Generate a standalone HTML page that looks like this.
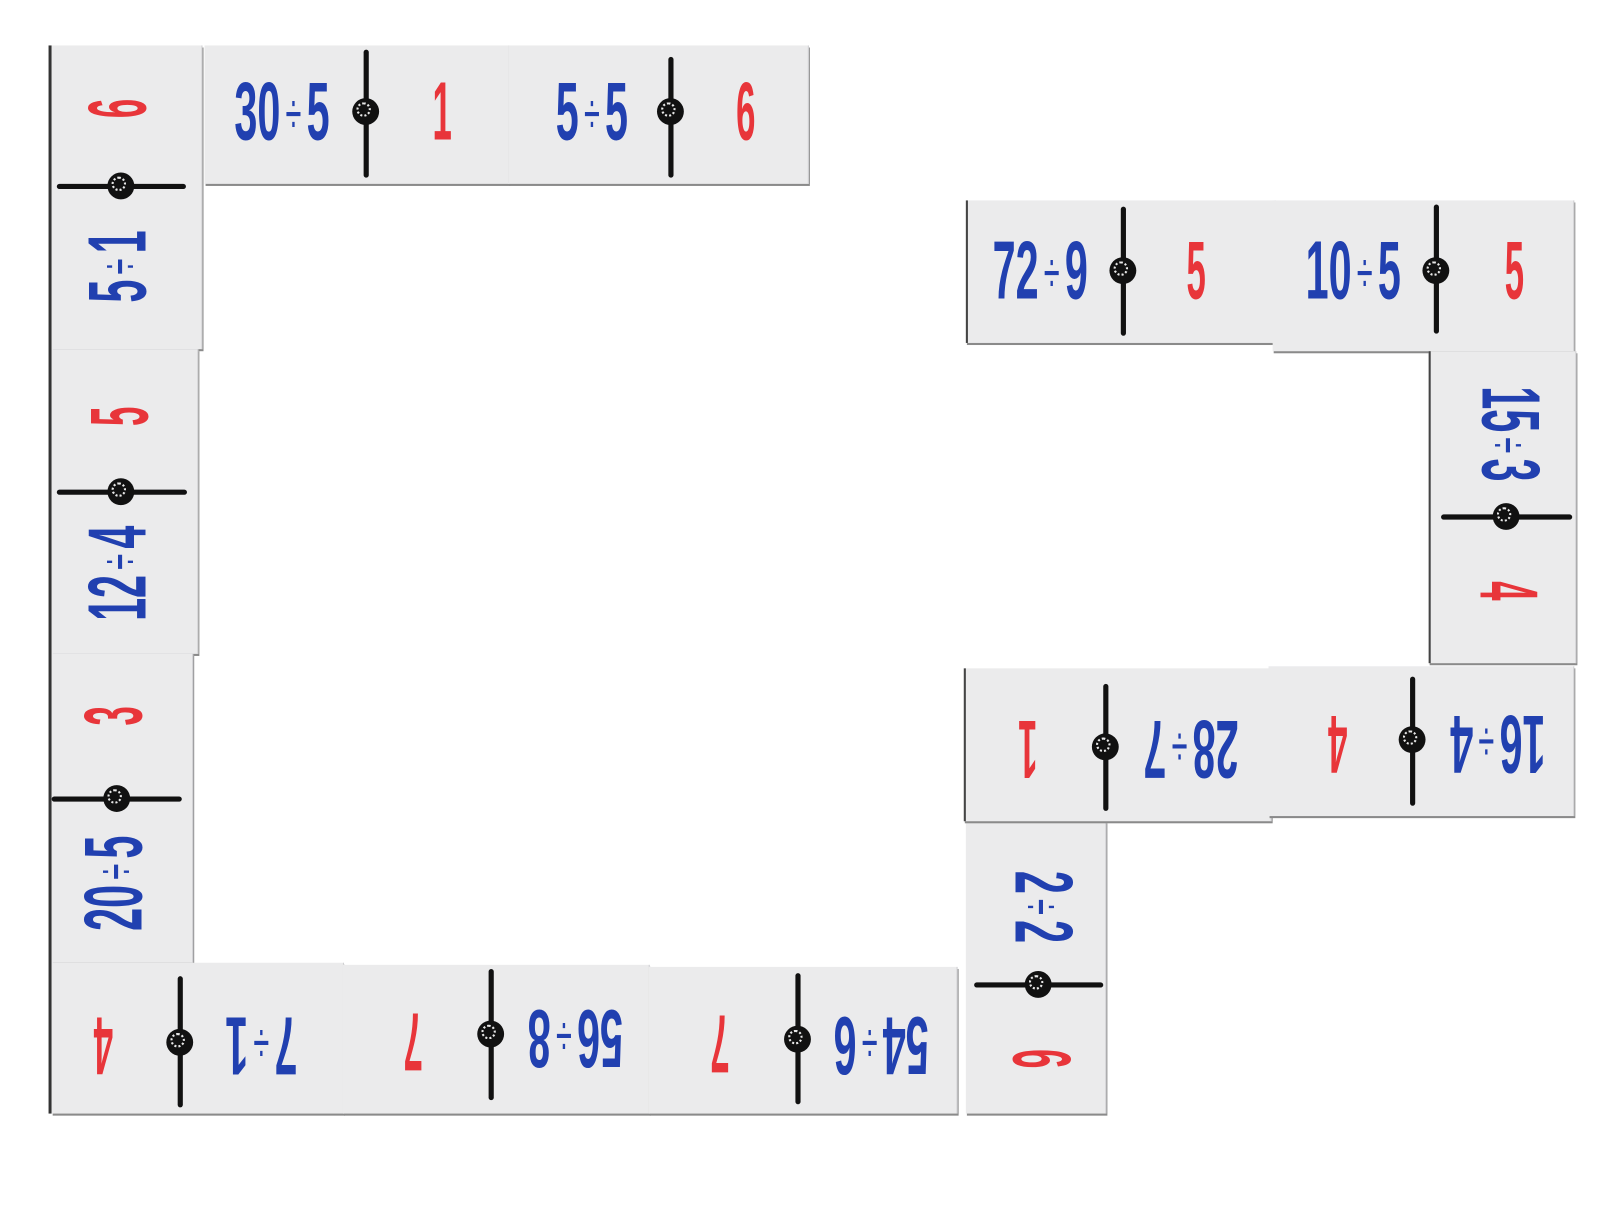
<!DOCTYPE html>
<html><head><meta charset="utf-8"><style>
html,body{margin:0;padding:0;background:#fff;width:1620px;height:1215px;overflow:hidden}
#w{position:absolute;left:0;top:0;width:1560px;height:1170px;transform:scale(1.033);transform-origin:0 0}
.tile{position:absolute;background:#ebebec;border-right:1px solid #cfcfd2;box-shadow:1px 2px 0 #8a8a8a}
.t{position:absolute;font-family:"Liberation Sans",sans-serif;font-weight:bold;font-size:80px;line-height:1;white-space:nowrap}
.t i{font-style:normal;font-weight:normal;font-size:0.7em;position:relative;top:-0.1em;margin:0 0.18em}
.b{color:#2140b0}.r{color:#e8353a}
.d{position:absolute;background:#111;border-radius:3px}
.c{position:absolute;width:26px;height:26px;border-radius:50%;background:#111;box-sizing:border-box;margin:-2px 0 0 -2px}
.c::after{content:"";position:absolute;left:6px;top:6px;width:10px;height:10px;border-radius:50%;border:2px dotted #e8e8e8;box-sizing:content-box;margin:-2px}
</style></head><body><div id="w">
<div style="position:absolute;left:47px;top:44px;width:3px;height:1034px;background:#333"></div>
<div class="tile" style="left:50px;top:44px;width:145px;height:294px"></div>
<div class="tile" style="left:198px;top:44px;width:294px;height:134px"></div>
<div class="tile" style="left:492px;top:44px;width:290px;height:134px"></div>
<div class="tile" style="left:50px;top:338px;width:141px;height:295px"></div>
<div class="tile" style="left:50px;top:633px;width:136px;height:299px"></div>
<div class="tile" style="left:50px;top:932px;width:282px;height:146px"></div>
<div class="tile" style="left:332px;top:934px;width:296px;height:144px"></div>
<div class="tile" style="left:628px;top:936px;width:298px;height:142px"></div>
<div class="tile" style="left:935px;top:795px;width:135px;height:283px"></div>
<div class="tile" style="left:935px;top:194px;width:297px;height:138px;border-left:2px solid #444"></div>
<div class="tile" style="left:1232px;top:194px;width:291px;height:146px"></div>
<div class="tile" style="left:1383px;top:340px;width:140px;height:302px;border-left:2px solid #444"></div>
<div class="tile" style="left:933px;top:647px;width:295px;height:148px;border-left:2px solid #444"></div>
<div class="tile" style="left:1228px;top:645px;width:295px;height:145px"></div>

<div class="t b" style="left:273px;top:108px;transform:translate(-50%,-50%) scaleX(.5)">30<i>÷</i>5</div>
<div class="d" style="left:352px;top:48px;width:5px;height:124px"></div><div class="c" style="left:343px;top:97px"></div>
<div class="t r" style="left:428px;top:108px;transform:translate(-50%,-50%) scaleX(.42)">1</div>
<div class="t b" style="left:573px;top:108px;transform:translate(-50%,-50%) scaleX(.5)">5<i>÷</i>5</div>
<div class="d" style="left:647px;top:55px;width:5px;height:117px"></div><div class="c" style="left:638px;top:97px"></div>
<div class="t r" style="left:722px;top:108px;transform:translate(-50%,-50%) scaleX(.42)">6</div>

<div class="t r" style="left:114px;top:105px;transform:translate(-50%,-50%) rotate(-90deg) scaleX(.42)">6</div>
<div class="d" style="left:55px;top:178px;width:125px;height:5px"></div><div class="c" style="left:106px;top:169px"></div>
<div class="t b" style="left:114px;top:258px;transform:translate(-50%,-50%) rotate(-90deg) scaleX(.5)">5<i>÷</i>1</div>
<div class="t r" style="left:116px;top:403px;transform:translate(-50%,-50%) rotate(-90deg) scaleX(.42)">5</div>
<div class="d" style="left:55px;top:474px;width:126px;height:5px"></div><div class="c" style="left:106px;top:465px"></div>
<div class="t b" style="left:114px;top:555px;transform:translate(-50%,-50%) rotate(-90deg) scaleX(.5)">12<i>÷</i>4</div>
<div class="t r" style="left:110px;top:693px;transform:translate(-50%,-50%) rotate(-90deg) scaleX(.42)">3</div>
<div class="d" style="left:50px;top:771px;width:126px;height:5px"></div><div class="c" style="left:102px;top:762px"></div>
<div class="t b" style="left:110px;top:855px;transform:translate(-50%,-50%) rotate(-90deg) scaleX(.5)">20<i>÷</i>5</div>

<div class="t r" style="left:100px;top:1012px;transform:translate(-50%,-50%) rotate(180deg) scaleX(.42)">4</div>
<div class="d" style="left:172px;top:945px;width:5px;height:127px"></div><div class="c" style="left:163px;top:998px"></div>
<div class="t b" style="left:253px;top:1012px;transform:translate(-50%,-50%) rotate(180deg) scaleX(.5)">7<i>÷</i>1</div>
<div class="t r" style="left:400px;top:1008px;transform:translate(-50%,-50%) rotate(180deg) scaleX(.42)">7</div>
<div class="d" style="left:473px;top:938px;width:5px;height:127px"></div><div class="c" style="left:464px;top:990px"></div>
<div class="t b" style="left:557px;top:1005px;transform:translate(-50%,-50%) rotate(180deg) scaleX(.5)">56<i>÷</i>8</div>
<div class="t r" style="left:697px;top:1010px;transform:translate(-50%,-50%) rotate(180deg) scaleX(.42)">7</div>
<div class="d" style="left:770px;top:942px;width:5px;height:127px"></div><div class="c" style="left:761px;top:995px"></div>
<div class="t b" style="left:853px;top:1012px;transform:translate(-50%,-50%) rotate(180deg) scaleX(.5)">54<i>÷</i>6</div>

<div class="t b" style="left:1010px;top:878px;transform:translate(-50%,-50%) rotate(90deg) scaleX(.5)">2<i>÷</i>2</div>
<div class="d" style="left:943px;top:951px;width:125px;height:5px"></div><div class="c" style="left:994px;top:942px"></div>
<div class="t r" style="left:1008px;top:1025px;transform:translate(-50%,-50%) rotate(90deg) scaleX(.42)">6</div>

<div class="t b" style="left:1007px;top:262px;transform:translate(-50%,-50%) scaleX(.5)">72<i>÷</i>9</div>
<div class="d" style="left:1085px;top:200px;width:5px;height:125px"></div><div class="c" style="left:1076px;top:251px"></div>
<div class="t r" style="left:1158px;top:262px;transform:translate(-50%,-50%) scaleX(.42)">5</div>
<div class="t b" style="left:1310px;top:262px;transform:translate(-50%,-50%) scaleX(.5)">10<i>÷</i>5</div>
<div class="d" style="left:1388px;top:198px;width:5px;height:125px"></div><div class="c" style="left:1379px;top:251px"></div>
<div class="t r" style="left:1466px;top:262px;transform:translate(-50%,-50%) scaleX(.42)">5</div>

<div class="t b" style="left:1462px;top:420px;transform:translate(-50%,-50%) rotate(90deg) scaleX(.5)">15<i>÷</i>3</div>
<div class="d" style="left:1395px;top:498px;width:127px;height:5px"></div><div class="c" style="left:1447px;top:489px"></div>
<div class="t r" style="left:1460px;top:572px;transform:translate(-50%,-50%) rotate(90deg) scaleX(.42)">4</div>

<div class="t r" style="left:995px;top:725px;transform:translate(-50%,-50%) rotate(180deg) scaleX(.42)">1</div>
<div class="d" style="left:1068px;top:662px;width:5px;height:123px"></div><div class="c" style="left:1059px;top:712px"></div>
<div class="t b" style="left:1153px;top:725px;transform:translate(-50%,-50%) rotate(180deg) scaleX(.5)">28<i>÷</i>7</div>
<div class="t r" style="left:1295px;top:720px;transform:translate(-50%,-50%) rotate(180deg) scaleX(.42)">4</div>
<div class="d" style="left:1365px;top:655px;width:5px;height:125px"></div><div class="c" style="left:1356px;top:705px"></div>
<div class="t b" style="left:1450px;top:720px;transform:translate(-50%,-50%) rotate(180deg) scaleX(.5)">16<i>÷</i>4</div>
</div></body></html>
